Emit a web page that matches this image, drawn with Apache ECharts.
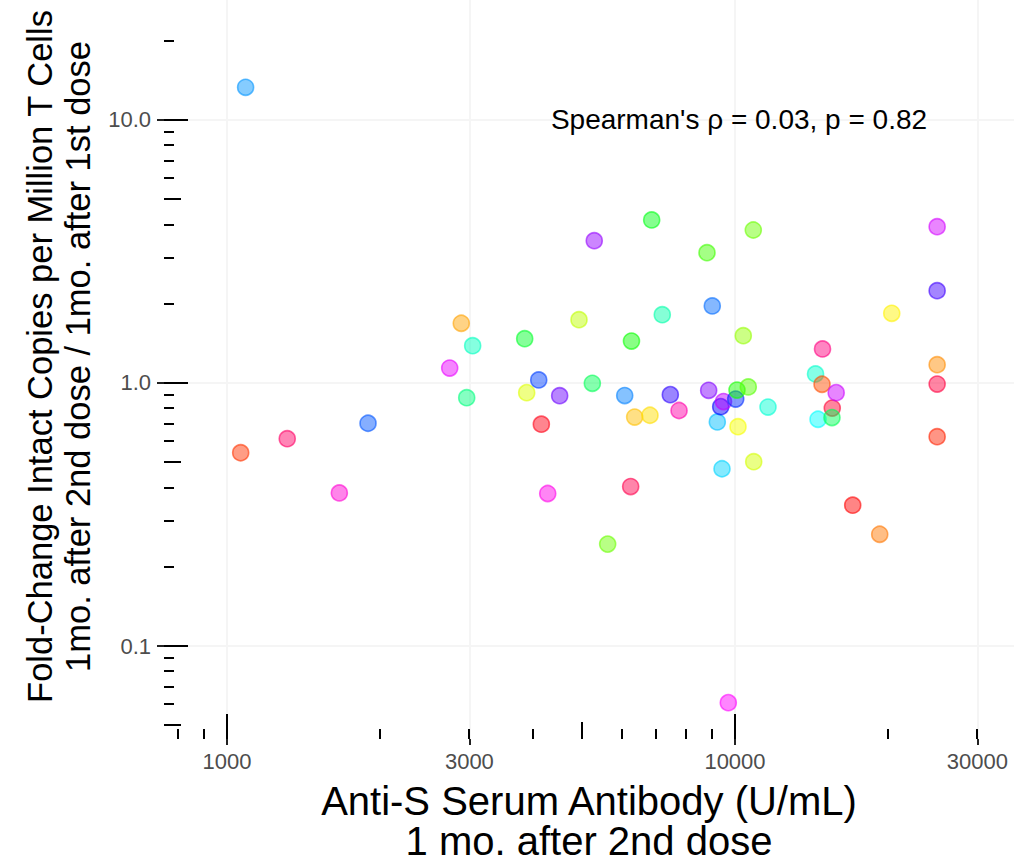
<!DOCTYPE html>
<html>
<head>
<meta charset="utf-8">
<script src="https://cdn.jsdelivr.net/npm/echarts@6/dist/echarts.min.js"></script>
<style>
html,body{margin:0;padding:0;background:#fff;}
#chart{width:1014px;height:866px;}
</style>
</head>
<body>
<div id="chart"></div>
<script>
// ---------- data ----------
const antibody = [1088, 1064, 1314, 1664, 1895, 2744, 2892, 3045, 2964, 3855,
  3890, 4108, 4157, 4279, 4517, 4931, 5238, 5284, 5615, 6066,
  6232, 6255, 6346, 6802, 6855, 7192, 7459, 7760, 8808, 8875,
  9022, 9230, 9373, 9493, 9428, 9701, 10032, 10091, 10137, 10383,
  10621, 10865, 10885, 11614, 14406, 14570, 14869, 14837, 15541, 15520,
  15820, 17050, 19270, 20350, 25000, 25000, 25000, 25000, 25000];
const foldChange = [13.31, 0.543, 0.614, 0.382, 0.703, 1.140, 1.687, 1.386, 0.879, 1.474,
  0.919, 1.027, 0.697, 0.380, 0.895, 1.741, 0.997, 3.476, 0.244, 0.896,
  0.404, 1.444, 0.742, 0.754, 4.167, 1.818, 0.903, 0.786, 3.130, 0.938,
  1.963, 0.711, 0.813, 0.850, 0.472, 0.0609, 0.869, 0.940, 0.682, 1.513,
  0.966, 3.817, 0.502, 0.810, 1.082, 0.728, 1.347, 0.989, 0.803, 0.739,
  0.919, 0.343, 0.266, 1.841, 3.929, 2.244, 1.174, 0.991, 0.625];
const pointColors = ['#0095FF', '#FF3300', '#FF0066', '#FF00D4', '#0055FF', '#EA00FF', '#FFA200', '#00FFBF', '#00FF7F', '#00FF2A',
  '#DDFF00', '#0040FF', '#FF0015', '#FF00EA', '#6A00FF', '#BFFF00', '#00FF55', '#9500FF', '#6AFF00', '#0080FF',
  '#FF004D', '#08FF00', '#FFBF00', '#FFDD00', '#00FF15', '#00FFAA', '#2B00FF', '#FF00AA', '#40FF00', '#8000FF',
  '#006AFF', '#00BFFF', '#0000FF', '#BF00FF', '#00D4FF', '#FF00FF', '#002BFF', '#15FF00', '#F7FF00', '#95FF00',
  '#55FF00', '#6AFF00', '#D4FF00', '#00FFD4', '#00FFCC', '#00FFFF', '#FF0080', '#FF4D00', '#FF0033', '#00FF55',
  '#CC00FF', '#FF0000', '#FF7700', '#FFF200', '#D400FF', '#4000FF', '#FF8C00', '#FF0040', '#FF2200'];

const xBreaks = [1000, 3000, 10000, 30000];
const yBreaks = [0.1, 1, 10];
const xLogTicksLong = [1000, 10000];
const xLogTicksMid = [5000];
const xLogTicksShort = [800, 900, 2000, 3000, 4000, 6000, 7000, 8000, 9000, 20000, 30000];
const yLogTicksLong = [0.1, 1, 10];
const yLogTicksMid = [0.05, 0.5, 5];
const yLogTicksShort = [0.06, 0.07, 0.08, 0.09, 0.2, 0.3, 0.4, 0.6, 0.7, 0.8, 0.9, 2, 3, 4, 6, 7, 8, 9, 20];

const xRange = [751.6, 35418];
const yRange = [0.0443, 28.59];

const annotation = { x: 10000, y: 10, text: "Spearman's ρ = 0.03, p = 0.82" };
const xTitle = 'Anti-S Serum Antibody (U/mL)\n1 mo. after 2nd dose';
const yTitle = 'Fold-Change Intact Copies per Million T Cells\n1mo. after 2nd dose / 1mo. after 1st dose';

// ---------- styles ----------
const FONT = "'Liberation Sans', Arial, Helvetica, sans-serif";
function rgba(hex, a) {
  const n = parseInt(hex.slice(1), 16);
  return 'rgba(' + ((n >> 16) & 255) + ',' + ((n >> 8) & 255) + ',' + (n & 255) + ',' + a + ')';
}

function logTickSeries(values, axis, len) {
  return {
    type: 'custom',
    silent: true,
    z: 3,
    clip: false,
    encode: { x: 0, y: 1 },
    data: values.map(v => axis === 'x' ? [v, 1] : [1000, v]),
    renderItem: function (params, api) {
      const cs = params.coordSys;
      const p = api.coord([api.value(0), api.value(1)]);
      if (axis === 'x') {
        const yb = cs.y + cs.height;
        const x = Math.round(p[0]);
        return { type: 'line', shape: { x1: x, y1: yb - len, x2: x, y2: yb },
                 style: { stroke: '#000', lineWidth: 2 } };
      } else {
        const xl = cs.x;
        const y = Math.round(p[1]);
        return { type: 'line', shape: { x1: xl, y1: y, x2: xl + len, y2: y },
                 style: { stroke: '#000', lineWidth: 2 } };
      }
    }
  };
}

const points = antibody.map((x, i) => ({
  value: [x, foldChange[i]],
  itemStyle: { color: rgba(pointColors[i], 0.6), borderColor: rgba(pointColors[i], 0.75), borderWidth: 1.6 }
}));

const chart = echarts.init(document.getElementById('chart'), null, { renderer: 'svg' });
chart.setOption({
  animation: false,
  backgroundColor: '#ffffff',
  grid: { left: 164, right: 0, top: 0, bottom: 127, containLabel: false },
  xAxis: {
    type: 'log', logBase: 10, min: xRange[0], max: xRange[1],
    name: xTitle, nameLocation: 'middle', nameGap: 42,
    nameTextStyle: { fontFamily: FONT, fontSize: 40, color: '#000', lineHeight: 40 },
    axisLine: { show: false },
    axisTick: { show: true, length: 6, customValues: xBreaks, lineStyle: { color: '#222', width: 2 } },
    axisLabel: { show: true, customValues: xBreaks, margin: 11, fontFamily: FONT, fontSize: 22, color: '#4d4d4d',
                 formatter: v => String(Math.round(v)) },
    splitLine: { show: true, lineStyle: { color: '#f5f5f5', width: 2 } },
    minorTick: { show: false }, minorSplitLine: { show: false }
  },
  yAxis: {
    type: 'log', logBase: 10, min: yRange[0], max: yRange[1],
    name: yTitle, nameLocation: 'middle', nameGap: 56,
    nameTextStyle: { fontFamily: FONT, fontSize: 34.5, color: '#000', lineHeight: 38, padding: [0, 0, 0, 26] },
    axisLine: { show: false },
    axisTick: { show: true, length: 7, customValues: yBreaks, lineStyle: { color: '#222', width: 2 } },
    axisLabel: { show: true, customValues: yBreaks, margin: 13, fontFamily: FONT, fontSize: 22, color: '#4d4d4d',
                 formatter: v => Number(v).toFixed(1) },
    splitLine: { show: true, lineStyle: { color: '#f5f5f5', width: 2 } },
    minorTick: { show: false }, minorSplitLine: { show: false }
  },
  series: [
    logTickSeries(xLogTicksShort, 'x', 10),
    logTickSeries(xLogTicksMid, 'x', 17),
    logTickSeries(xLogTicksLong, 'x', 25),
    logTickSeries(yLogTicksShort, 'y', 10),
    logTickSeries(yLogTicksMid, 'y', 17),
    logTickSeries(yLogTicksLong, 'y', 24),
    {
      type: 'scatter',
      z: 5,
      symbol: 'circle',
      symbolSize: 16,
      data: points
    },
    {
      type: 'custom',
      silent: true,
      z: 6,
      clip: false,
      encode: { x: 0, y: 1 },
      data: [[annotation.x, annotation.y]],
      renderItem: function (params, api) {
        const p = api.coord([api.value(0), api.value(1)]);
        return { type: 'text', x: p[0] + 4, y: p[1],
          style: { text: annotation.text, fontFamily: FONT, fontSize: 28, fill: '#000',
                   align: 'center', verticalAlign: 'middle', textAlign: 'center', textVerticalAlign: 'middle' } };
      }
    }
  ]
});
</script>
</body>
</html>
